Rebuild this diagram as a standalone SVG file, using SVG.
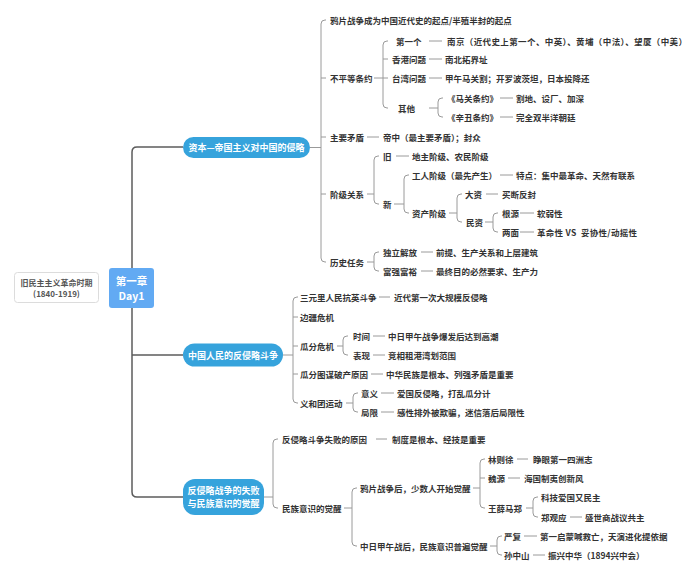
<svg xmlns="http://www.w3.org/2000/svg" width="700" height="576" viewBox="0 0 700 576">
<style>
text{font-family:"Noto Sans CJK SC","Noto Sans",sans-serif;dominant-baseline:central}
.t{font-size:8.5px;font-weight:bold;fill:#333}
.p{font-size:9px;font-weight:bold;fill:#fff}
.pill{fill:#36a3dc}
.c{fill:none;stroke:#9a9a9a;stroke-width:1}
.trunk{fill:none;stroke:#5c5c5c;stroke-width:1.5}
</style>
<rect width="700" height="576" fill="#fff"/>
<g id="connectors">
<path class="trunk" d="M183,147 H137 Q132,147 132,152 V492 Q132,497 137,497 H183 M132,355 H183"/>
<g class="c">
<path d="M310,147.5 H321 M326,20 H325 Q321,20 321,24 V258 Q321,262 325,262 H326 M321,78 H326 M321,137 H326 M321,194 H326"/>
<path d="M374,78 H388 M388,41 H387 Q383,41 383,45 V104 Q383,108 387,108 H388 M383,59 H388"/>
<path d="M429,41 H442 M429,59 H442 M429,78 H442"/>
<path d="M429,108 H438 M443,98 H442 Q438,98 438,102 V113 Q438,117 442,117 H443"/>
<path d="M500,98 H513 M500,117 H513"/>
<path d="M367,137 H379"/>
<path d="M367,194 H374 M379,156 H378 Q374,156 374,160 V200 Q374,204 378,204 H379"/>
<path d="M396,156 H409"/>
<path d="M394,204 H404 M409,175 H408 Q404,175 404,179 V209 Q404,213 408,213 H409"/>
<path d="M500,175 H513"/>
<path d="M449,213 H457 M462,194 H461 Q457,194 457,198 V218 Q457,222 461,222 H462"/>
<path d="M486,194 H498"/>
<path d="M485,222 H493 M498,213 H497 Q493,213 493,217 V228 Q493,232 497,232 H498"/>
<path d="M520,213 H534 M520,232 H534"/>
<path d="M367,262 H374 M379,252 H378 Q374,252 374,256 V267 Q374,271 378,271 H379"/>
<path d="M421,252 H433 M421,271 H433"/>
<path d="M283,355 H293 M298,297 H297 Q293,297 293,301 V399 Q293,403 297,403 H298 M293,317 H298 M293,346 H298 M293,374 H298"/>
<path d="M379,297 H390"/>
<path d="M337,346 H343 M348,336 H347 Q343,336 343,340 V351 Q343,355 347,355 H348"/>
<path d="M373,336 H385 M373,355 H385"/>
<path d="M371,374 H383"/>
<path d="M346,403 H353 M358,393 H357 Q353,393 353,397 V408 Q353,412 357,412 H358"/>
<path d="M381,393 H394 M381,412 H394"/>
<path d="M264,497 H273 M278,439 H277 Q273,439 273,443 V504 Q273,508 277,508 H278"/>
<path d="M376,439 H387"/>
<path d="M344,508 H352 M357,488 H356 Q352,488 352,492 V542 Q352,546 356,546 H357"/>
<path d="M473,488 H480 M485,459 H484 Q480,459 480,463 V504 Q480,508 484,508 H485 M480,478 H485"/>
<path d="M517,459 H528 M508,478 H520"/>
<path d="M526,508 H533 M538,497 H537 Q533,497 533,501 V513 Q533,517 537,517 H538"/>
<path d="M570,517 H582"/>
<path d="M490,546 H497 M502,536 H501 Q497,536 497,540 V551 Q497,555 501,555 H502"/>
<path d="M524,536 H537 M533,555 H545"/>
</g>
</g>
<g id="era">
<rect x="14.5" y="272.5" width="84" height="30" rx="3" fill="#fff" stroke="#dcdcdc"/>
<text x="56.5" y="282" text-anchor="middle" style="font-size:8px;font-weight:bold;fill:#555">旧民主主义革命时期</text>
<text x="56.5" y="293.5" text-anchor="middle" style="font-size:8px;font-weight:bold;fill:#555">(1840-1919)</text>
</g>
<g id="root">
<rect x="109" y="268" width="45" height="40" rx="3" fill="#62aaf3"/>
<text x="131.5" y="280.5" text-anchor="middle" style="font-size:10.5px;font-weight:bold;fill:#fff">第一章</text>
<text x="131.5" y="295" text-anchor="middle" style="font-size:10.5px;font-weight:bold;fill:#fff">Day1</text>
</g>
<g id="n1">
<rect class="pill" x="183" y="137" width="127" height="21" rx="10.5"/>
<text class="p" x="246.5" y="147.5" text-anchor="middle">资本—帝国主义对中国的侵略</text>
</g>
<g id="n1-1"><text class="t" x="330" y="20">鸦片战争成为中国近代史的起点/半殖半封的起点</text></g>
<g id="n1-2"><text class="t" x="330" y="78">不平等条约</text></g>
<g id="n1-2-1"><text class="t" x="396" y="41">第一个</text></g>
<g id="n1-2-1a"><text class="t" x="447" y="41" textLength="240" lengthAdjust="spacing">南京（近代史上第一个、中英）、黄埔（中法）、望厦（中美）</text></g>
<g id="n1-2-2"><text class="t" x="392" y="59">香港问题</text></g>
<g id="n1-2-2a"><text class="t" x="445" y="59">南北拓界址</text></g>
<g id="n1-2-3"><text class="t" x="392" y="78">台湾问题</text></g>
<g id="n1-2-3a"><text class="t" x="445" y="78">甲午马关割；开罗波茨坦，日本投降还</text></g>
<g id="n1-2-4"><text class="t" x="398" y="108">其他</text></g>
<g id="n1-2-4a"><text class="t" x="447" y="98">《马关条约》</text></g>
<g id="n1-2-4a1"><text class="t" x="516" y="98">割地、设厂、加深</text></g>
<g id="n1-2-4b"><text class="t" x="447" y="117">《辛丑条约》</text></g>
<g id="n1-2-4b1"><text class="t" x="516" y="117">完全双半洋朝廷</text></g>
<g id="n1-3"><text class="t" x="330" y="137">主要矛盾</text></g>
<g id="n1-3a"><text class="t" x="383" y="137">帝中（最主要矛盾）；封众</text></g>
<g id="n1-4"><text class="t" x="330" y="194">阶级关系</text></g>
<g id="n1-4-1"><text class="t" x="383" y="156">旧</text></g>
<g id="n1-4-1a"><text class="t" x="412" y="156">地主阶级、农民阶级</text></g>
<g id="n1-4-2"><text class="t" x="383" y="204">新</text></g>
<g id="n1-4-2-1"><text class="t" x="412" y="175">工人阶级（最先产生）</text></g>
<g id="n1-4-2-1a"><text class="t" x="516" y="175">特点：集中最革命、天然有联系</text></g>
<g id="n1-4-2-2"><text class="t" x="412" y="213">资产阶级</text></g>
<g id="n1-4-2-2-1"><text class="t" x="465" y="194">大资</text></g>
<g id="n1-4-2-2-1a"><text class="t" x="502" y="194">买断反封</text></g>
<g id="n1-4-2-2-2"><text class="t" x="466" y="222">民资</text></g>
<g id="n1-4-2-2-2-1"><text class="t" x="502" y="213">根源</text></g>
<g id="n1-4-2-2-2-1a"><text class="t" x="537" y="213">软弱性</text></g>
<g id="n1-4-2-2-2-2"><text class="t" x="502" y="232">两面</text></g>
<g id="n1-4-2-2-2-2a"><text class="t" x="537" y="232" style="white-space:pre" textLength="100" lengthAdjust="spacing">革命性 VS  妥协性/动摇性</text></g>
<g id="n1-5"><text class="t" x="330" y="262">历史任务</text></g>
<g id="n1-5-1"><text class="t" x="383" y="252">独立解放</text></g>
<g id="n1-5-1a"><text class="t" x="436" y="252">前提、生产关系和上层建筑</text></g>
<g id="n1-5-2"><text class="t" x="383" y="271">富强富裕</text></g>
<g id="n1-5-2a"><text class="t" x="436" y="271">最终目的必然要求、生产力</text></g>
<g id="n2">
<rect class="pill" x="183" y="343.5" width="100" height="23" rx="11.5"/>
<text class="p" x="233" y="355" text-anchor="middle">中国人民的反侵略斗争</text>
</g>
<g id="n2-1"><text class="t" x="300" y="297">三元里人民抗英斗争</text></g>
<g id="n2-1a"><text class="t" x="394" y="297">近代第一次大规模反侵略</text></g>
<g id="n2-2"><text class="t" x="300" y="317">边疆危机</text></g>
<g id="n2-3"><text class="t" x="300" y="346">瓜分危机</text></g>
<g id="n2-3-1"><text class="t" x="353" y="336">时间</text></g>
<g id="n2-3-1a"><text class="t" x="388" y="336">中日甲午战争爆发后达到高潮</text></g>
<g id="n2-3-2"><text class="t" x="353" y="355">表现</text></g>
<g id="n2-3-2a"><text class="t" x="388" y="355">竞相租港湾划范围</text></g>
<g id="n2-4"><text class="t" x="300" y="374">瓜分图谋破产原因</text></g>
<g id="n2-4a"><text class="t" x="386" y="374">中华民族是根本、列强矛盾是重要</text></g>
<g id="n2-5"><text class="t" x="300" y="403">义和团运动</text></g>
<g id="n2-5-1"><text class="t" x="361" y="393">意义</text></g>
<g id="n2-5-1a"><text class="t" x="397" y="393">爱国反侵略，打乱瓜分计</text></g>
<g id="n2-5-2"><text class="t" x="361" y="412">局限</text></g>
<g id="n2-5-2a"><text class="t" x="397" y="412">感性排外被欺骗，迷信落后局限性</text></g>
<g id="n3">
<rect class="pill" x="183" y="479" width="81" height="36" rx="12"/>
<text class="p" x="223.5" y="490.5" text-anchor="middle">反侵略战争的失败</text>
<text class="p" x="223.5" y="503" text-anchor="middle">与民族意识的觉醒</text>
</g>
<g id="n3-1"><text class="t" x="282" y="439">反侵略斗争失败的原因</text></g>
<g id="n3-1a"><text class="t" x="392" y="439">制度是根本、经技是重要</text></g>
<g id="n3-2"><text class="t" x="282" y="508">民族意识的觉醒</text></g>
<g id="n3-2-1"><text class="t" x="360" y="488">鸦片战争后，少数人开始觉醒</text></g>
<g id="n3-2-1-1"><text class="t" x="488" y="459">林则徐</text></g>
<g id="n3-2-1-1a"><text class="t" x="533" y="459">睁眼第一四洲志</text></g>
<g id="n3-2-1-2"><text class="t" x="488" y="478">魏源</text></g>
<g id="n3-2-1-2a"><text class="t" x="524" y="478">海国制夷创新风</text></g>
<g id="n3-2-1-3"><text class="t" x="488" y="508">王薛马郑</text></g>
<g id="n3-2-1-3-1"><text class="t" x="541" y="497">科技爱国又民主</text></g>
<g id="n3-2-1-3-2"><text class="t" x="541" y="517">郑观应</text></g>
<g id="n3-2-1-3-2a"><text class="t" x="585" y="517">盛世商战议共主</text></g>
<g id="n3-2-2"><text class="t" x="360" y="546">中日甲午战后，民族意识普遍觉醒</text></g>
<g id="n3-2-2-1"><text class="t" x="504" y="536">严复</text></g>
<g id="n3-2-2-1a"><text class="t" x="540" y="536">第一启蒙喊救亡，天演进化提依据</text></g>
<g id="n3-2-2-2"><text class="t" x="504" y="555">孙中山</text></g>
<g id="n3-2-2-2a"><text class="t" x="548" y="555">振兴中华（1894兴中会）</text></g>
</svg>
